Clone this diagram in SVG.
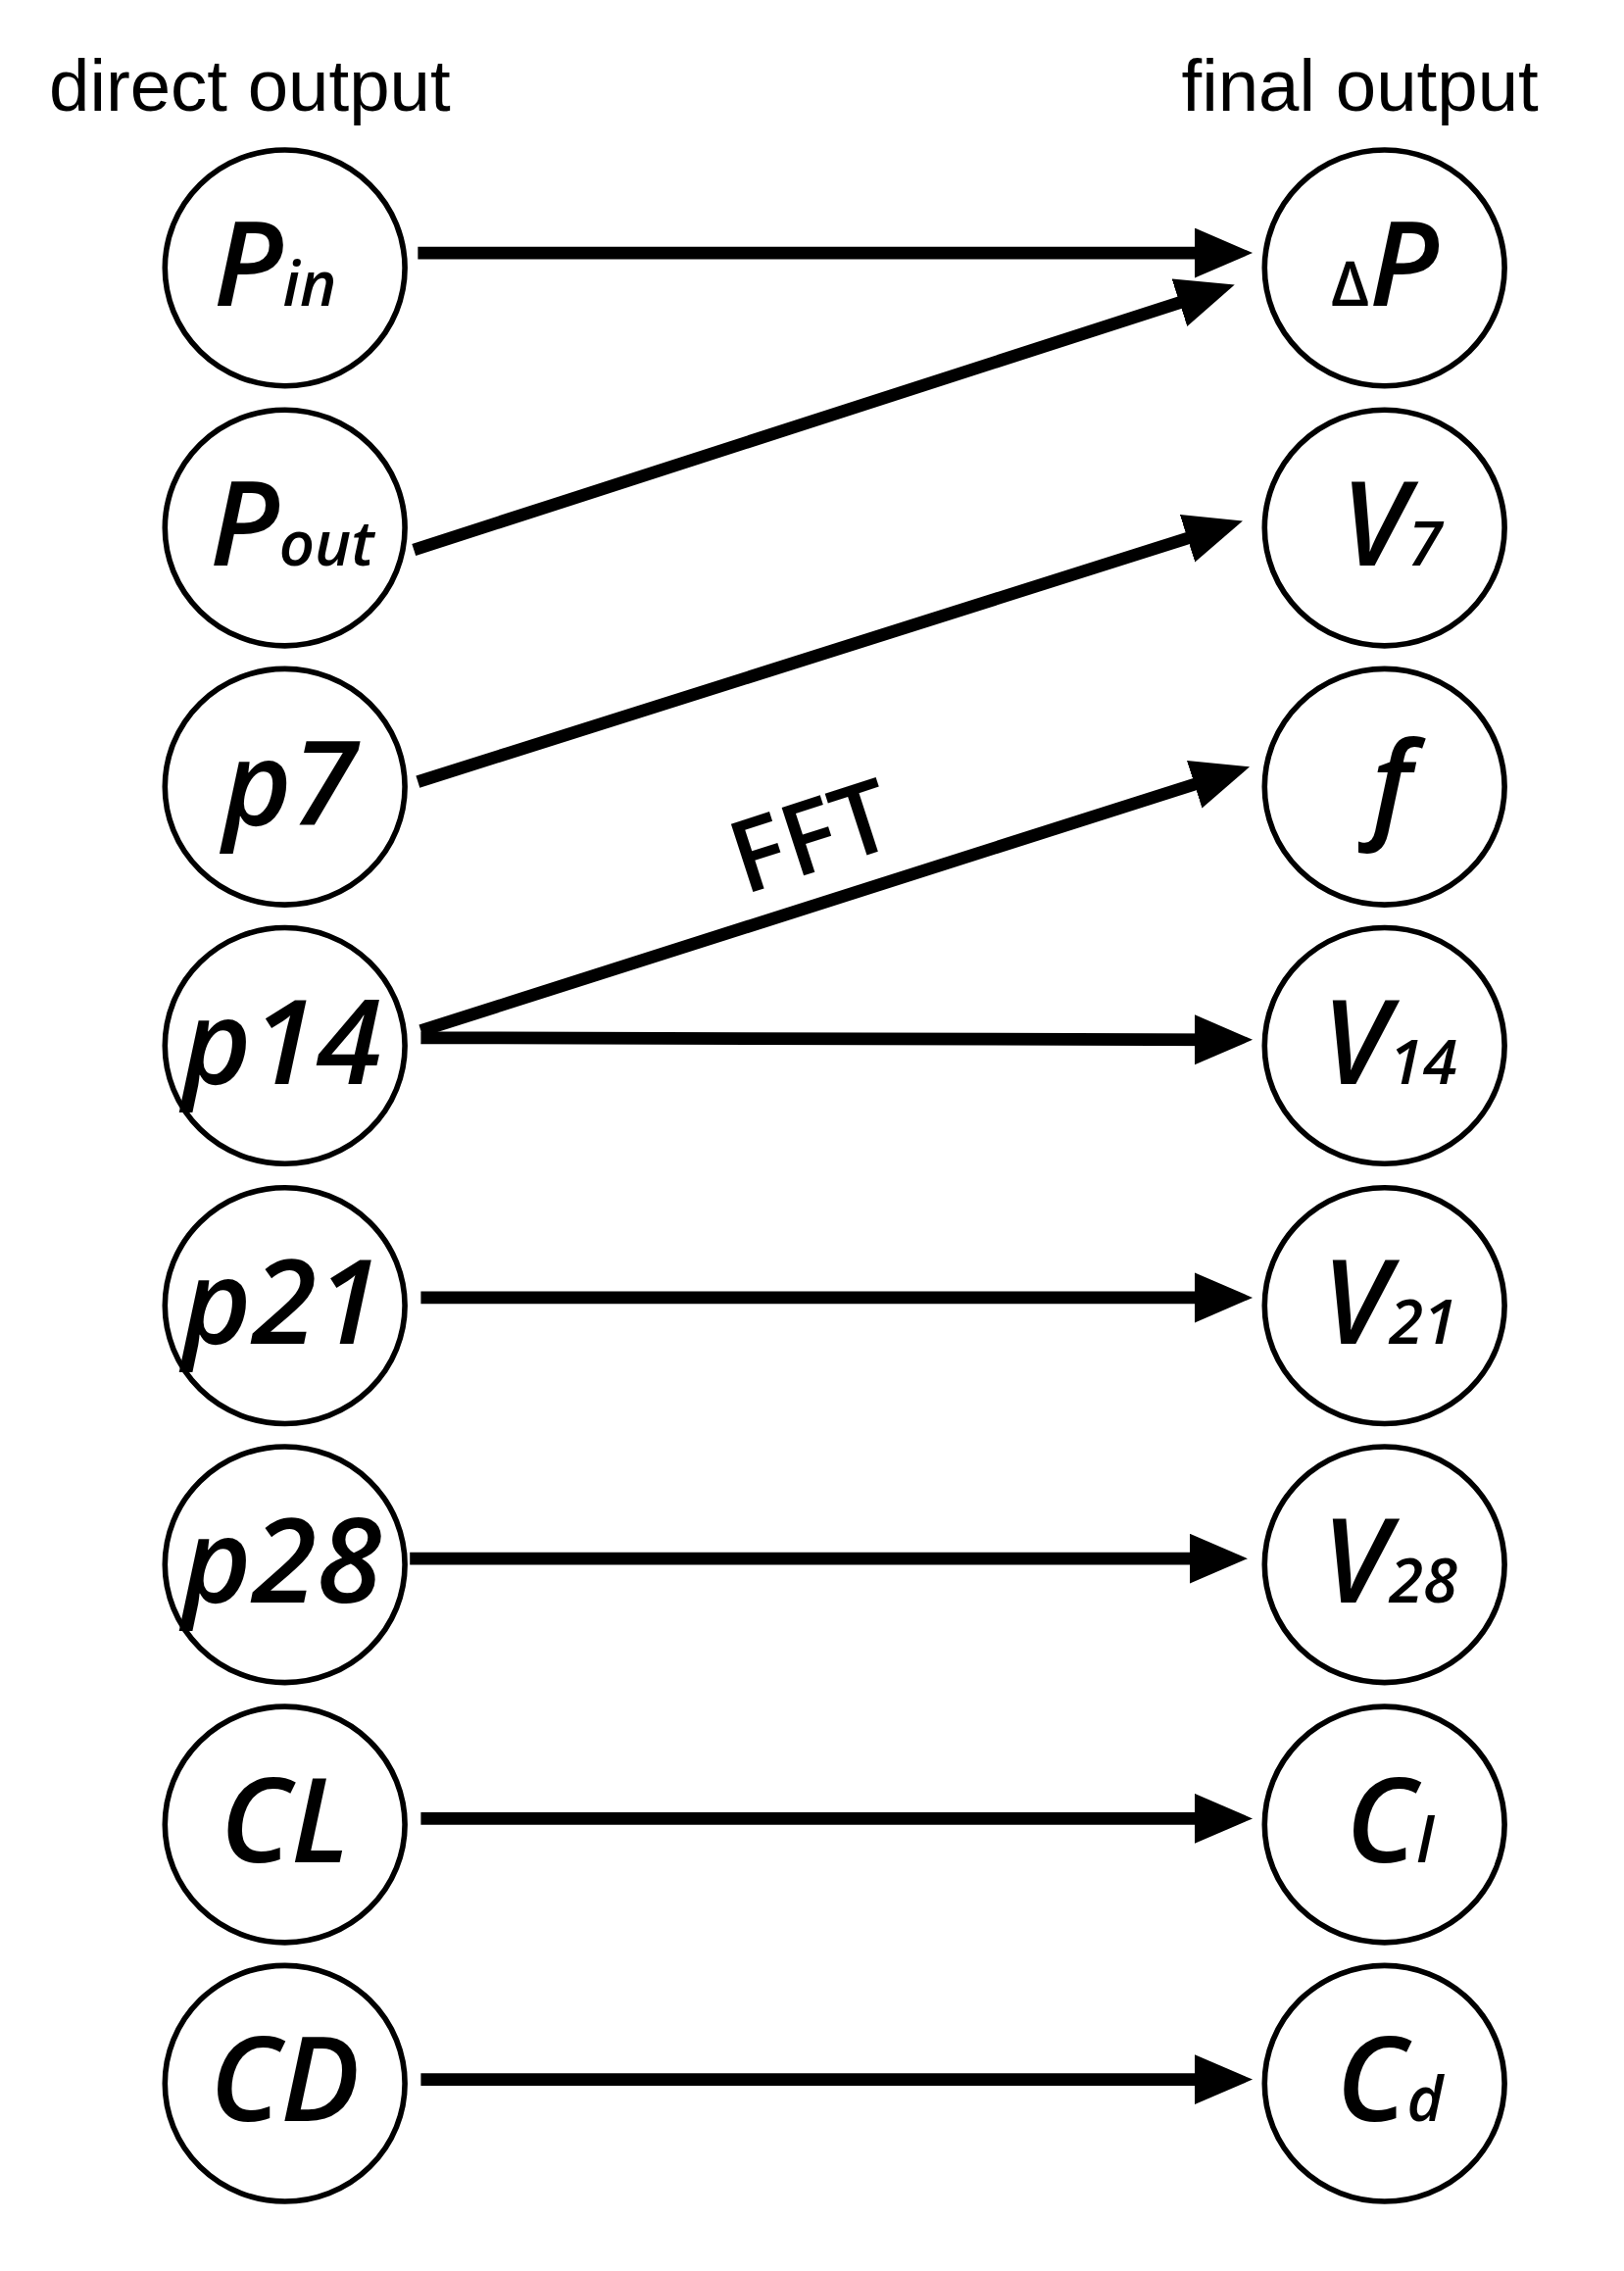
<svg xmlns="http://www.w3.org/2000/svg" width="1657" height="2317" viewBox="0 0 1657 2317">
<style>
.n{fill:#fff;stroke:#000;stroke-width:5.5}
.h{font-family:"Liberation Sans",Arial,sans-serif;font-size:73px;fill:#000}
.l{font-family:"Open Sans","Noto Sans",sans-serif;font-style:italic;font-weight:600;font-size:118px;fill:#000;text-anchor:middle}
.s{font-size:62px}
.e{stroke:#000;stroke-width:12.5;fill:none;marker-end:url(#a)}
</style>
<defs><marker id="a" markerUnits="userSpaceOnUse" markerWidth="60" markerHeight="52" refX="38" refY="25" orient="auto"><path d="M0,0 L58,25 L0,50 z" fill="#000"/></marker></defs>
<rect width="1657" height="2317" fill="#fff"/>
<g transform="scale(1.02)">
<text class="h" x="49" y="111">direct output</text>
<text class="h" x="1539" y="111" text-anchor="end">final output</text>
<g id="connectors">
<line class="e" x1="418" y1="253" x2="1233" y2="253"/>
<line class="e" x1="414" y1="550" x2="1216" y2="291"/>
<line class="e" x1="418" y1="782" x2="1224" y2="527"/>
<line class="e" x1="421" y1="1031" x2="1231" y2="773"/>
<line class="e" x1="421" y1="1038" x2="1233" y2="1040"/>
<line class="e" x1="421" y1="1298" x2="1233" y2="1298"/>
<line class="e" x1="410" y1="1559" x2="1228" y2="1559"/>
<line class="e" x1="421" y1="1819" x2="1233" y2="1819"/>
<line class="e" x1="421" y1="2080" x2="1233" y2="2080"/>
<text font-family="'Open Sans','Noto Sans',sans-serif" font-weight="600" font-size="100" text-anchor="middle" transform="translate(822,870) rotate(-18)">FFT</text>
</g>
<g id="Pin"><ellipse class="n" cx="285" cy="268" rx="120" ry="118"/><text class="l" x="275" y="306">P<tspan class="s">in</tspan></text></g>
<g id="Pout"><ellipse class="n" cx="285" cy="528" rx="120" ry="118"/><text class="l" x="292" y="566">P<tspan class="s">out</tspan></text></g>
<g id="p7"><ellipse class="n" cx="285" cy="787" rx="120" ry="118"/><text class="l" x="290" y="825">p7</text></g>
<g id="p14"><ellipse class="n" cx="285" cy="1046" rx="120" ry="118"/><text class="l" x="282" y="1084">p14</text></g>
<g id="p21"><ellipse class="n" cx="285" cy="1306" rx="120" ry="118"/><text class="l" x="282" y="1344">p21</text></g>
<g id="p28"><ellipse class="n" cx="285" cy="1565" rx="120" ry="118"/><text class="l" x="282" y="1603">p28</text></g>
<g id="CL"><ellipse class="n" cx="285" cy="1825" rx="120" ry="118"/><text class="l" x="285" y="1863">CL</text></g>
<g id="CD"><ellipse class="n" cx="285" cy="2084" rx="120" ry="118"/><text class="l" x="285" y="2122">CD</text></g>
<g id="dP"><ellipse class="n" cx="1385" cy="268" rx="120" ry="118"/><text class="l" x="1385" y="306"><tspan class="s" font-style="normal">∆</tspan>P</text></g>
<g id="V7"><ellipse class="n" cx="1385" cy="528" rx="120" ry="118"/><text class="l" x="1392" y="566">V<tspan class="s">7</tspan></text></g>
<g id="f"><ellipse class="n" cx="1385" cy="787" rx="120" ry="118"/><text class="l" x="1392" y="825">f</text></g>
<g id="V14"><ellipse class="n" cx="1385" cy="1046" rx="120" ry="118"/><text class="l" x="1390" y="1084">V<tspan class="s">14</tspan></text></g>
<g id="V21"><ellipse class="n" cx="1385" cy="1306" rx="120" ry="118"/><text class="l" x="1390" y="1344">V<tspan class="s">21</tspan></text></g>
<g id="V28"><ellipse class="n" cx="1385" cy="1565" rx="120" ry="118"/><text class="l" x="1390" y="1603">V<tspan class="s">28</tspan></text></g>
<g id="Cl"><ellipse class="n" cx="1385" cy="1825" rx="120" ry="118"/><text class="l" x="1390" y="1863">C<tspan class="s">l</tspan></text></g>
<g id="Cd"><ellipse class="n" cx="1385" cy="2084" rx="120" ry="118"/><text class="l" x="1390" y="2122">C<tspan class="s">d</tspan></text></g>
</g>
</svg>
